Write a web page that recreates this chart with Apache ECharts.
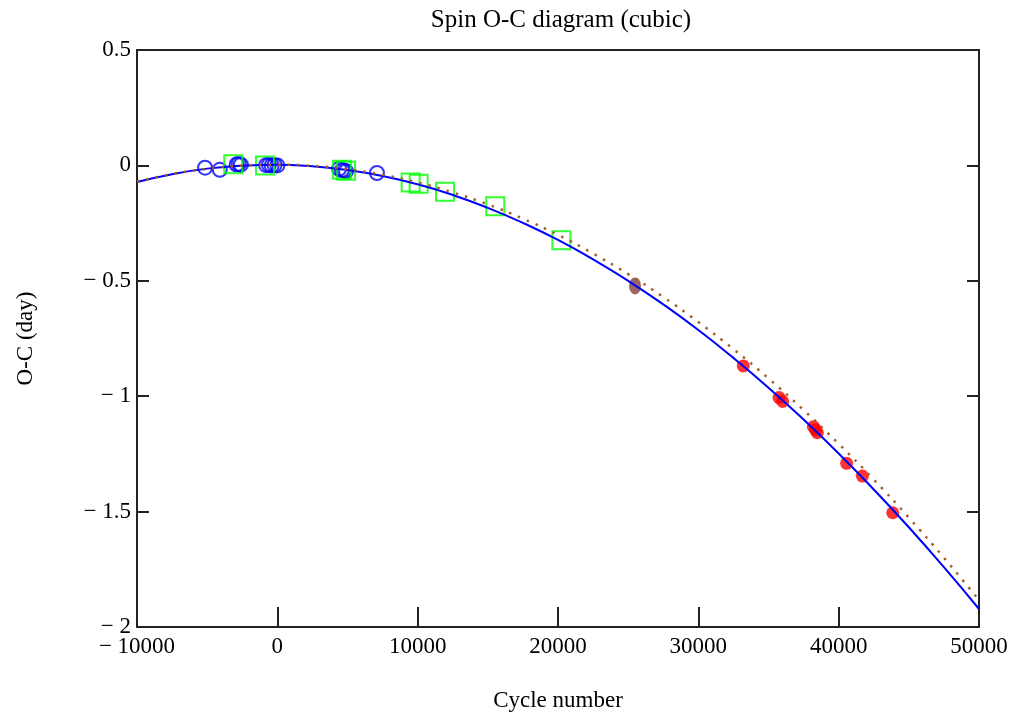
<!DOCTYPE html>
<html>
<head>
<meta charset="utf-8">
<script src="https://cdn.jsdelivr.net/npm/echarts@6/dist/echarts.min.js"></script>
<style>
html,body{margin:0;padding:0;background:#fff;}
#chart{width:1019px;height:717px;}
</style>
</head>
<body>
<div id="chart"></div>
<script>
// Fitted curves (cycle number, O-C day)
var curveX = [-10000,-7500,-5000,-2500,0,2500,5000,7500,10000,12500,15000,17500,20000,22500,25000,27500,30000,32500,35000,37500,40000,42500,45000,47500,50000];
var cubicY = [-0.072,-0.038,-0.014,-0.001,0.003,-0.004,-0.020,-0.046,-0.082,-0.128,-0.184,-0.249,-0.323,-0.407,-0.500,-0.602,-0.713,-0.834,-0.963,-1.101,-1.248,-1.404,-1.568,-1.741,-1.922];
var dottedY = [-0.070,-0.038,-0.015,-0.001,0.003,-0.002,-0.017,-0.041,-0.074,-0.117,-0.169,-0.231,-0.301,-0.382,-0.471,-0.570,-0.679,-0.796,-0.923,-1.060,-1.206,-1.361,-1.526,-1.700,-1.883];

// Observations
var circleX = [-5150,-4100,-2900,-2750,-2600,-800,-600,-400,-200,0,4400,4600,4750,4900,7100];
var circleY = [-0.010,-0.019,0.004,0.006,0.003,0.001,0.002,0.000,0.001,0.000,-0.015,-0.020,-0.022,-0.025,-0.033];
var squareX = [-3140,-880,4600,4900,9500,10070,11950,15530,20240];
var squareY = [0.005,0.000,-0.019,-0.023,-0.074,-0.080,-0.114,-0.177,-0.324];
var brownX = [25490];
var brownY = [-0.522];
var redX = [33200,35750,36010,38200,38350,38480,40570,41690,43850];
var redY = [-0.869,-1.006,-1.023,-1.132,-1.145,-1.158,-1.291,-1.346,-1.505];

var xTicks = [-10000,0,10000,20000,30000,40000,50000];
var yTicks = [0.5,0,-0.5,-1,-1.5,-2];

function pairs(xs, ys){ return xs.map(function(x,i){ return [x, ys[i]]; }); }
function fmt(v){ return v < 0 ? '\u2212 ' + String(-v) : String(v); }

var FONT = '"Liberation Serif", "DejaVu Serif", serif';
var chart = echarts.init(document.getElementById('chart'));
chart.setOption({
  animation: false,
  backgroundColor: '#ffffff',
  title: {
    text: 'Spin O-C diagram (cubic)',
    left: 556, top: 3, textAlign: 'center',
    textStyle: {fontFamily: FONT, fontSize: 25, fontWeight: 'normal', color: '#000'}
  },
  grid: {left: 137, right: 40, top: 50, bottom: 90, containLabel: false},
  xAxis: [{
    type: 'value', min: xTicks[0], max: xTicks[xTicks.length-1], interval: 10000,
    name: 'Cycle number', nameLocation: 'middle', nameGap: 62,
    nameTextStyle: {fontFamily: FONT, fontSize: 23, color: '#000'},
    axisLine: {show: true, onZero: false, lineStyle: {color: '#222', width: 2}},
    axisTick: {show: true, inside: true, length: 20, lineStyle: {color: '#222', width: 2}},
    axisLabel: {show: true, margin: 8, fontFamily: FONT, fontSize: 23, color: '#000', formatter: fmt, showMinLabel: true, showMaxLabel: true},
    splitLine: {show: false}
  }, {
    type: 'value', position: 'top', min: xTicks[0], max: xTicks[xTicks.length-1], interval: 10000,
    axisLine: {show: true, onZero: false, lineStyle: {color: '#222', width: 2}},
    axisTick: {show: false}, axisLabel: {show: false}, splitLine: {show: false}
  }],
  yAxis: [{
    type: 'value', min: -2, max: 0.5, interval: 0.5,
    name: 'O-C (day)', nameLocation: 'middle', nameGap: 100, nameRotate: 90,
    nameTextStyle: {fontFamily: FONT, fontSize: 23, color: '#000'},
    axisLine: {show: true, onZero: false, lineStyle: {color: '#222', width: 2}},
    axisTick: {show: true, inside: true, length: 12, lineStyle: {color: '#222', width: 2}},
    axisLabel: {show: true, margin: 6, fontFamily: FONT, fontSize: 23, color: '#000', formatter: fmt, showMinLabel: true, showMaxLabel: true},
    splitLine: {show: false}
  }, {
    type: 'value', position: 'right', min: -2, max: 0.5, interval: 0.5,
    axisLine: {show: true, onZero: false, lineStyle: {color: '#222', width: 2}},
    axisTick: {show: true, inside: true, length: 12, lineStyle: {color: '#222', width: 2}},
    axisLabel: {show: false}, splitLine: {show: false}
  }],
  series: [
    {type: 'scatter', name: 'red', data: pairs(redX, redY), symbol: 'circle', symbolSize: 13,
     itemStyle: {color: '#ff0000'}},
    {type: 'line', name: 'cubic', data: pairs(curveX, cubicY), smooth: true, showSymbol: false,
     lineStyle: {color: '#0000ff', width: 2}},
    {type: 'line', name: 'dotted', data: pairs(curveX, dottedY), smooth: true, showSymbol: false,
     lineStyle: {color: '#a0602a', width: 2.5, type: [2.5, 7]}},
    {type: 'scatter', name: 'circles', data: pairs(circleX, circleY), symbol: 'circle', symbolSize: 14,
     itemStyle: {color: 'rgba(0,0,0,0)', borderColor: '#0000ff', borderWidth: 2}},
    {type: 'scatter', name: 'squares', data: pairs(squareX, squareY), symbol: 'rect', symbolSize: 18,
     itemStyle: {color: 'rgba(0,0,0,0)', borderColor: '#00ff00', borderWidth: 2}},
    {type: 'scatter', name: 'brown', data: pairs(brownX, brownY), symbol: 'circle', symbolSize: [12, 17],
     itemStyle: {color: '#86403c'}}
  ]
});
</script>
</body>
</html>
